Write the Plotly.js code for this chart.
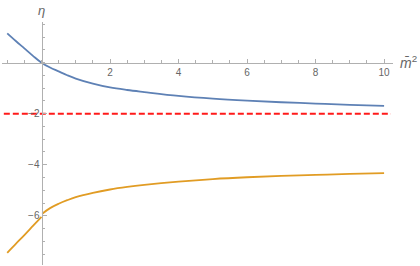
<!DOCTYPE html>
<html>
<head>
<meta charset="utf-8">
<script src="https://cdn.plot.ly/plotly-3.0.1.min.js"></script>
<style>html,body{margin:0;padding:0;background:#fff;}#chart{width:420px;height:266px;}</style>
</head>
<body>
<div id="chart"></div>
<script>
// Data
const blueX = [-1, -0.75, -0.5, -0.25, 0, 0.25, 0.5, 0.75, 1, 1.5, 2, 2.5, 3, 4, 5, 6, 7, 8, 9, 10];
const blueY = [1.15, 0.85, 0.56, 0.27, 0, -0.19, -0.34, -0.49, -0.62, -0.82, -0.97, -1.07, -1.15, -1.30, -1.41, -1.49, -1.55, -1.60, -1.65, -1.69];

const orangeLeftX = [-1, -0.75, -0.5, -0.25, 0];
const orangeLeftY = [-7.45, -7.10, -6.76, -6.40, -6.04];
const orangeRightX = [0.02, 0.25, 0.5, 0.75, 1, 1.5, 2, 2.5, 3, 4, 5, 6, 7, 8, 9, 10];
const orangeRightY = [-5.92, -5.70, -5.53, -5.39, -5.27, -5.10, -4.97, -4.87, -4.79, -4.66, -4.56, -4.49, -4.44, -4.40, -4.36, -4.33];

const refX = [-1.1, 10.2];
const refY = [-2, -2];

const xTicks = [2, 4, 6, 8, 10];
const xTickText = ['2', '4', '6', '8', '10'];
const yTicks = [-6, -4, -2];
const yTickText = ['\u22126', '\u22124', '\u22122'];

const xRange = [-1.153, 10.26];
const yRange = [-7.93, 1.596];

const axisColor = '#b0b0b0';
const labelColor = '#666666';
const fontFam = 'Liberation Sans, Arial, sans-serif';

const traces = [
  {x: refX, y: refY, mode: 'lines', line: {color: '#ff1a1a', width: 1.8, dash: '6px,3px'}, hoverinfo: 'skip'},
  {x: blueX, y: blueY, mode: 'lines', line: {color: '#5e81b5', width: 1.8, shape: 'spline'}},
  {x: orangeLeftX, y: orangeLeftY, mode: 'lines', line: {color: '#e19c24', width: 1.8, shape: 'spline'}},
  {x: orangeRightX, y: orangeRightY, mode: 'lines', line: {color: '#e19c24', width: 1.8, shape: 'spline'}}
];

const xPos = (0 - yRange[0]) / (yRange[1] - yRange[0]);
const yPos = (0 - xRange[0]) / (xRange[1] - xRange[0]);

const layout = {
  width: 420, height: 266,
  margin: {l: 2, r: 27, t: 22, b: 1},
  paper_bgcolor: '#fff', plot_bgcolor: '#fff',
  showlegend: false,
  font: {family: fontFam, size: 10, color: labelColor},
  xaxis: {
    range: xRange, anchor: 'free', position: xPos,
    showgrid: false, zeroline: false,
    showline: true, linecolor: axisColor, linewidth: 1,
    tickmode: 'array', tickvals: xTicks, ticktext: xTickText,
    ticks: 'inside', ticklen: 4, tickcolor: axisColor, tickwidth: 1,
    tickfont: {family: fontFam, size: 10, color: labelColor},
    minor: {tickmode: 'linear', tick0: 0, dtick: 0.5, ticks: 'inside', ticklen: 2.5, tickcolor: axisColor, showgrid: false}
  },
  yaxis: {
    range: yRange, anchor: 'free', position: yPos,
    showgrid: false, zeroline: false,
    showline: true, linecolor: axisColor, linewidth: 1,
    tickmode: 'array', tickvals: yTicks, ticktext: yTickText,
    ticks: 'inside', ticklen: 4, tickcolor: axisColor, tickwidth: 1,
    tickfont: {family: fontFam, size: 10, color: labelColor},
    minor: {tickmode: 'linear', tick0: 0, dtick: 0.5, ticks: 'inside', ticklen: 2.5, tickcolor: axisColor, showgrid: false}
  },
  annotations: [
    {xref: 'x', yref: 'paper', x: 0, y: 1, yshift: 2, text: '<i>\u03b7</i>', showarrow: false,
     xanchor: 'center', yanchor: 'bottom', font: {family: fontFam, size: 13, color: labelColor}},
    {xref: 'paper', yref: 'y', x: 1, y: 0, xshift: 5, yshift: 1, text: '<i>m\u0304</i><sup>2</sup>', showarrow: false,
     xanchor: 'left', yanchor: 'middle', font: {family: fontFam, size: 14, color: labelColor}}
  ]
};

Plotly.newPlot('chart', traces, layout, {displayModeBar: false, staticPlot: true});
</script>
</body>
</html>
